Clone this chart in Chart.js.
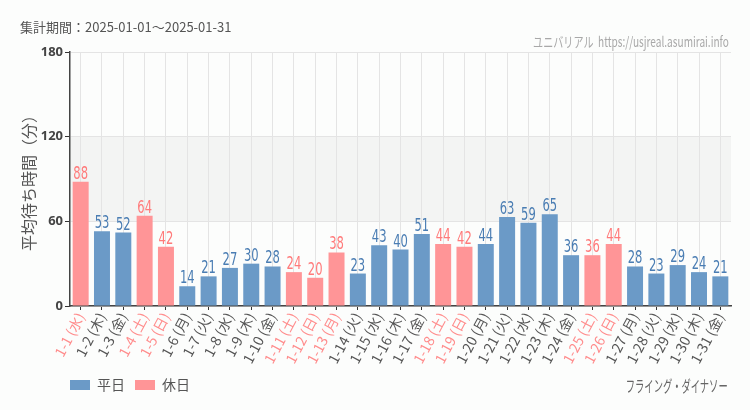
<!DOCTYPE html>
<html><head><meta charset="utf-8">
<script src="https://cdn.jsdelivr.net/npm/chart.js@4/dist/chart.umd.min.js"></script>
<style>
html,body{margin:0;padding:0;background:#fcfdfc;}
#wrap{position:relative;width:750px;height:410px;overflow:hidden;}
canvas{position:absolute;left:0;top:0;}
.t{position:absolute;white-space:nowrap;}
#title{left:20px;top:17px;font:13px "Noto Sans CJK JP","Noto Sans",sans-serif;color:#555;}
#src{right:21px;top:31px;font:14px "Noto Sans CJK JP","DejaVu Sans",sans-serif;color:#a8a8a8;transform:scaleX(0.72);transform-origin:right center;}
#ride{right:22px;top:373px;font:16px "Noto Sans CJK JP","DejaVu Sans",sans-serif;color:#666;transform:scaleX(0.58);transform-origin:right center;}
</style></head>
<body><div id="wrap">
<canvas id="c" width="750" height="410"></canvas>
<div class="t" id="title">集計期間：2025-01-01～2025-01-31</div>
<div class="t" id="src">ユニバリアル&nbsp; https://usjreal.asumirai.info</div>
<div class="t" id="ride">フライング・ダイナソー</div>
</div>
<script>
const days = ["1-1","1-2","1-3","1-4","1-5","1-6","1-7","1-8","1-9","1-10","1-11","1-12","1-13","1-14","1-15","1-16","1-17","1-18","1-19","1-20","1-21","1-22","1-23","1-24","1-25","1-26","1-27","1-28","1-29","1-30","1-31"];
const weekdays = ["水","木","金","土","日","月","火","水","木","金","土","日","月","火","水","木","金","土","日","月","火","水","木","金","土","日","月","火","水","木","金"];
const waitMinutes = [88,53,52,64,42,14,21,27,30,28,24,20,38,23,43,40,51,44,42,44,63,59,65,36,36,44,28,23,29,24,21];
const isHoliday = [1,0,0,1,1,0,0,0,0,0,1,1,1,0,0,0,0,1,1,0,0,0,0,0,1,1,0,0,0,0,0];
const yTicks = [0,60,120,180];
const seriesNames = ["平日","休日"];

const labels = days.map((d,i)=>d+" ("+weekdays[i]+")");
const weekdayData = waitMinutes.map((v,i)=>isHoliday[i]?null:v);
const holidayData = waitMinutes.map((v,i)=>isHoliday[i]?v:null);

const BLUE="#6b9ac7", RED="#ff9597", BLUE_T="#4a7db3", RED_T="#ff7a7a";

const bandBg={id:'bandBg',beforeDraw(chart){
  const {ctx,chartArea:a,scales:{y}}=chart;
  const y1=y.getPixelForValue(120), y0=y.getPixelForValue(60);
  ctx.save();ctx.fillStyle="#f3f4f3";ctx.fillRect(a.left,y1,a.right-a.left,y0-y1);ctx.restore();
}};
const valueLabels={id:'vl',afterDatasetsDraw(chart){
  const ctx=chart.ctx;
  chart.data.datasets.forEach((ds,di)=>{
    chart.getDatasetMeta(di).data.forEach((bar,i)=>{
      const v=ds.data[i]; if(v==null) return;
      ctx.save();
      ctx.font='17px "DejaVu Sans",sans-serif';ctx.textAlign='center';ctx.textBaseline='alphabetic';
      ctx.translate(bar.x,bar.y-3);ctx.scale(0.68,1);
      ctx.fillStyle=di===0?BLUE_T:RED_T;
      ctx.fillText(String(v),0,0);
      ctx.restore();
    });
  });
}};
const legendShift={id:'legendShift',afterLayout(chart){ if(chart.legend){chart.legend.left=60;} }};

new Chart(document.getElementById('c'),{
  type:'bar',
  data:{labels,datasets:[
    {label:seriesNames[0],data:weekdayData,backgroundColor:BLUE,borderWidth:0,barPercentage:0.75,categoryPercentage:1},
    {label:seriesNames[1],data:holidayData,backgroundColor:RED,borderWidth:0,barPercentage:0.75,categoryPercentage:1}
  ]},
  plugins:[bandBg,valueLabels,legendShift],
  options:{
    responsive:false,animation:false,
    layout:{padding:{top:52,right:19,left:0,bottom:8}},
    plugins:{
      tooltip:{enabled:false},
      legend:{position:'bottom',align:'start',
        labels:{boxWidth:20,boxHeight:10,padding:10,color:'#555',font:{size:14,family:'"Noto Sans CJK JP",sans-serif'}}}
    },
    scales:{
      x:{stacked:true,
        grid:{offset:false,color:'#e4e4e4',tickColor:'#333',tickLength:4,drawOnChartArea:true},
        border:{color:'#444',width:1.5},
        ticks:{autoSkip:false,minRotation:62,maxRotation:62,padding:0,
          color:(c)=>isHoliday[c.index]?'#ff8c8c':'#555',
          font:{size:14,family:'"Noto Sans CJK JP","DejaVu Sans",sans-serif'}},
        afterFit(s){s.height=62;}
      },
      y:{stacked:true,min:0,max:180,
        afterBuildTicks(s){s.ticks=yTicks.map(v=>({value:v}));},
        grid:{color:'#e4e4e4',tickColor:'#333',tickLength:5},
        border:{color:'#444',width:1.5},
        ticks:{color:'#444',padding:2,font:{size:13,weight:'bold',family:'"Noto Sans",sans-serif'}},
        title:{display:true,text:'平均待ち時間（分）',color:'#555',padding:{top:19,bottom:0},
          font:{size:16,family:'"Noto Sans CJK JP",sans-serif'}},
        afterFit(s){s.width=70;}
      }
    }
  }
});
</script>
</body></html>
